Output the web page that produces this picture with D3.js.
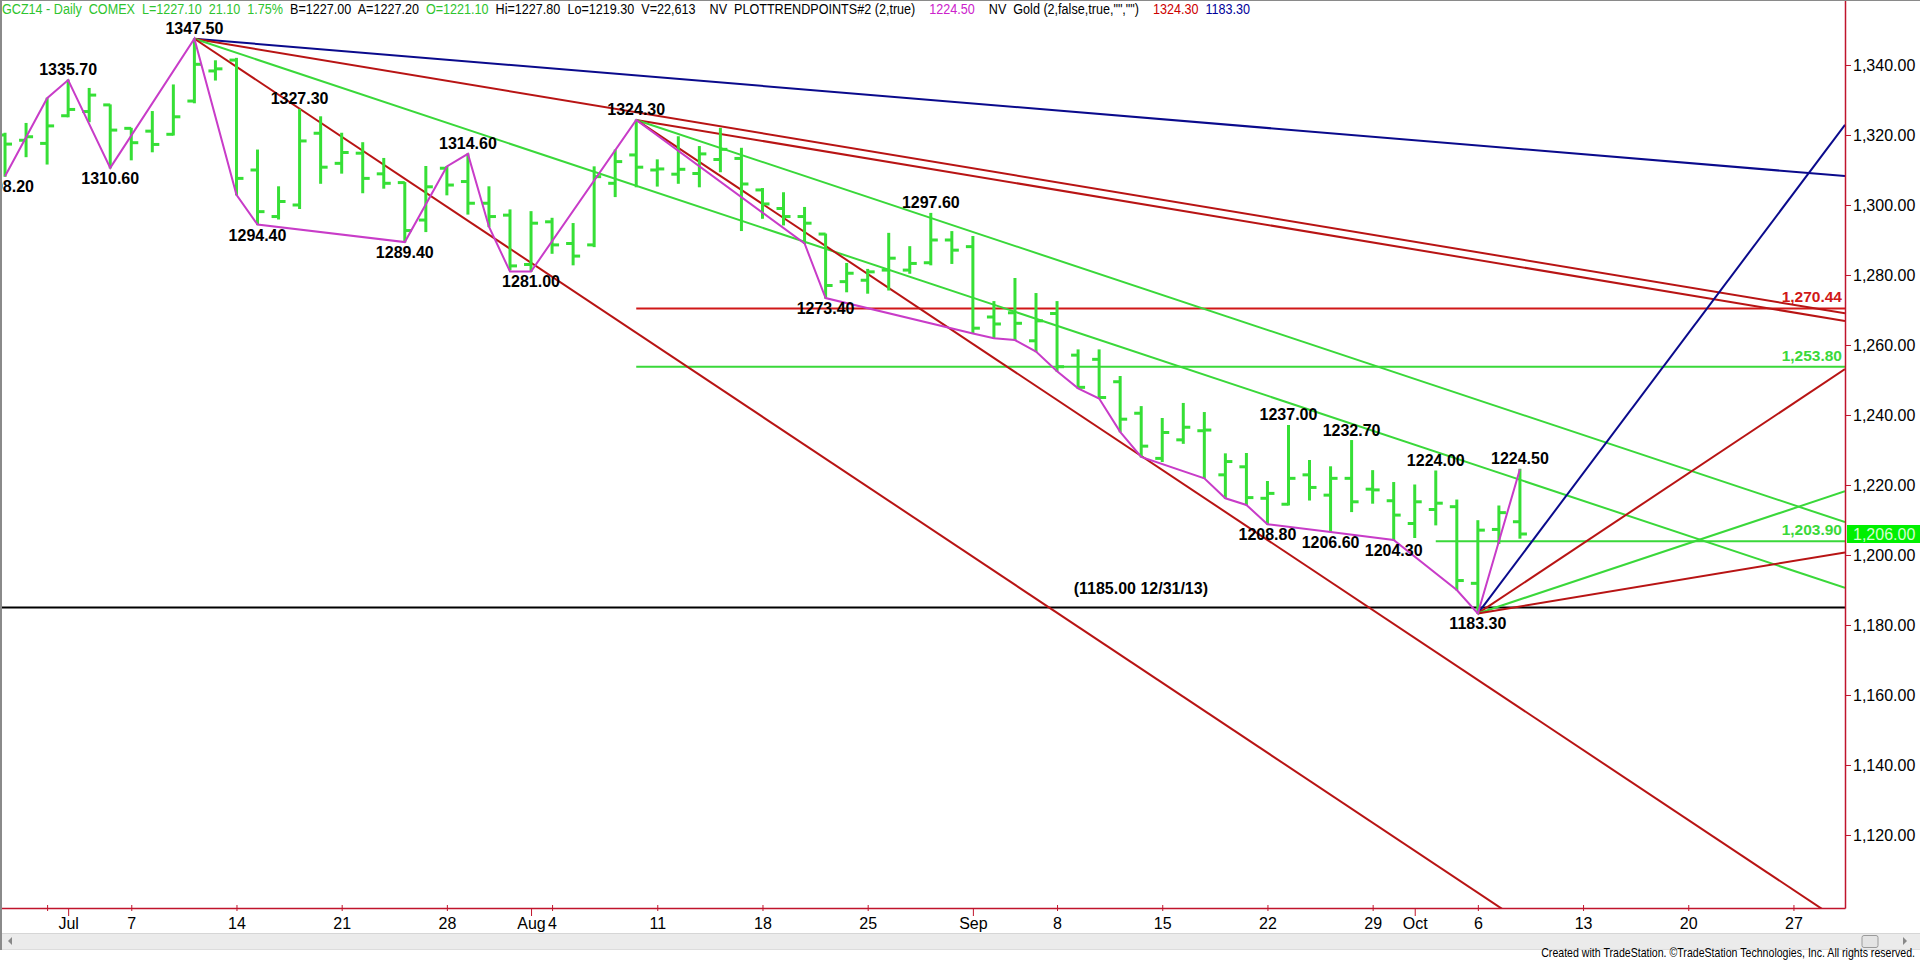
<!DOCTYPE html>
<html><head><meta charset="utf-8">
<script src="https://cdn.jsdelivr.net/npm/d3@7"></script>
<style>
html,body{margin:0;padding:0;background:#fff;overflow:hidden}
svg{display:block}
text{font-family:"Liberation Sans",Arial,Helvetica,sans-serif}
</style></head><body>
<svg id="chart" width="1920" height="964"></svg>
<script>
// ---------------- DATA ----------------
const days = ["06-26","06-27","06-30","07-01","07-02","07-03","07-07","07-08","07-09","07-10","07-11","07-14","07-15","07-16","07-17","07-18","07-21","07-22","07-23","07-24","07-25","07-28","07-29","07-30","07-31","08-01","08-04","08-05","08-06","08-07","08-08","08-11","08-12","08-13","08-14","08-15","08-18","08-19","08-20","08-21","08-22","08-25","08-26","08-27","08-28","08-29","09-02","09-03","09-04","09-05","09-08","09-09","09-10","09-11","09-12","09-15","09-16","09-17","09-18","09-19","09-22","09-23","09-24","09-25","09-26","09-29","09-30","10-01","10-02","10-03","10-06","10-07","10-08","10-09","10-10","10-13","10-14","10-15","10-16","10-17","10-20","10-21","10-22","10-23","10-24","10-27","10-28","10-29","10-30","10-31"];

const opens  = [1320.0,1318.5,1317.6,1325.5,1326.7,1328.6,1321.9,1321.1,1320.2,1329.7,1338.3,1341.4,1310.0,1296.7,1300.0,1320.5,1311.9,1314.8,1308.9,1306.4,1295.7,1310.5,1306.7,1300.5,1297.1,1283.0,1295.2,1289.0,1288.6,1306.2,1314.3,1310.0,1308.8,1309.0,1313.0,1313.3,1304.3,1299.0,1296.7,1291.7,1278.1,1278.5,1281.4,1281.4,1283.5,1290.0,1288.1,1268.0,1269.2,1261.2,1269.0,1257.1,1255.9,1249.5,1240.5,1227.6,1232.9,1235.5,1222.9,1225.2,1216.2,1214.5,1222.9,1217.1,1221.9,1218.8,1215.5,1209.0,1213.0,1213.8,1191.9,1207.3,1209.5];
const highs  = [1320.5,1323.3,1330.5,1335.7,1333.3,1328.6,1321.9,1326.7,1334.3,1347.5,1341.2,1341.9,1315.7,1305.2,1327.3,1325.2,1320.5,1317.8,1313.3,1306.4,1311.0,1311.0,1314.6,1305.2,1298.6,1298.1,1296.2,1294.7,1310.9,1315.7,1324.3,1312.9,1319.5,1316.7,1321.9,1316.2,1304.7,1303.5,1299.3,1291.7,1283.3,1281.6,1291.9,1288.1,1297.6,1292.4,1291.0,1272.4,1279.0,1274.7,1272.4,1258.6,1258.6,1251.0,1242.4,1239.0,1243.3,1240.7,1228.9,1229.0,1221.0,1237.0,1227.0,1225.2,1232.7,1224.1,1220.7,1220.0,1224.0,1215.7,1209.8,1214.0,1224.5];
const lows   = [1308.2,1313.8,1311.7,1325.2,1323.8,1310.6,1312.9,1315.2,1320.0,1329.2,1335.7,1302.9,1294.4,1296.0,1299.0,1306.2,1309.1,1303.5,1304.8,1289.4,1292.4,1302.9,1297.4,1293.8,1281.5,1281.0,1286.2,1282.9,1288.1,1302.4,1305.2,1305.4,1306.2,1305.2,1309.5,1292.7,1296.2,1294.3,1289.0,1273.4,1275.2,1274.8,1275.7,1280.5,1282.9,1283.3,1263.3,1261.9,1261.4,1258.1,1252.5,1247.6,1244.7,1235.2,1228.0,1226.7,1231.9,1221.9,1216.2,1214.3,1208.8,1214.3,1215.7,1206.6,1212.4,1214.8,1204.3,1205.0,1208.6,1190.0,1183.3,1203.3,1204.8];
const closes = [1317.4,1319.5,1322.6,1327.3,1331.4,1321.4,1317.8,1317.3,1325.2,1340.2,1338.9,1307.6,1298.1,1301.0,1318.3,1310.8,1315.0,1307.6,1306.2,1292.7,1305.2,1305.7,1300.5,1296.7,1282.6,1294.8,1288.6,1285.4,1308.1,1312.4,1310.8,1310.3,1310.2,1314.6,1315.9,1306.0,1300.3,1296.7,1294.8,1277.0,1280.5,1280.9,1284.8,1283.3,1290.0,1287.1,1264.8,1266.0,1266.2,1266.9,1253.8,1247.9,1245.0,1238.8,1231.1,1235.0,1236.5,1235.7,1226.7,1216.4,1217.6,1221.9,1219.3,1221.9,1215.2,1218.6,1211.4,1215.2,1214.8,1192.7,1207.1,1212.1,1206.0];

// swing (trend point) line
const pivotDays   = ["06-26","06-30","07-01","07-03","07-10","07-14","07-15","07-24","07-28","07-29","07-30","07-31","08-01","08-08","08-20","08-21","09-02","09-03","09-04","09-05","09-08","09-09","09-10","09-11","09-12","09-17","09-18","09-19","09-22","09-25","09-30","10-03","10-06","10-08"];
const pivotPrices = [1308.2,1330.5,1335.7,1310.6,1347.5,1302.9,1294.4,1289.4,1311.0,1314.6,1293.8,1281.0,1281.0,1324.3,1289.0,1273.4,1263.3,1261.9,1261.4,1258.1,1252.5,1247.6,1244.7,1235.2,1228.0,1221.9,1216.2,1214.3,1208.8,1206.6,1204.3,1190.0,1183.3,1224.5];

// swing labels
const highLabelDays   = ["07-01","07-10","07-17","07-29","08-08","08-28","09-23","09-26","10-02","10-08"];
const highLabelPrices = [1335.70,1347.50,1327.30,1314.60,1324.30,1297.60,1237.00,1232.70,1224.00,1224.50];
const lowLabelDays    = ["06-26","07-03","07-15","07-24","08-01","08-21","09-22","09-25","09-30","10-06"];
const lowLabelPrices  = [1308.20,1310.60,1294.40,1289.40,1281.00,1273.40,1208.80,1206.60,1204.30,1183.30];

// angle lines (points per bar)
const fanOriginDays   = ["07-10","07-10","07-10","07-10","08-08","08-08","08-08","10-06","10-06","10-06","10-06"];
const fanOriginPrices = [1347.5,1347.5,1347.5,1347.5,1324.3,1324.3,1324.3,1183.3,1183.3,1183.3,1183.3];
const fanSlopes       = [-0.5,-1,-2,-4,-1,-2,-4,8,4,2,1];

// horizontal levels
const levelValues    = [1270.44,1253.80,1203.90];
const levelStartDays = ["08-08","08-08","10-02"];
const refLevel = 1185.00;
const refLabel = "(1185.00 12/31/13)";
const lastPrice = 1206.00;

// axes
const priceTicks = [1120,1140,1160,1180,1200,1220,1240,1260,1280,1300,1320,1340];
const tickDays   = ["06-30","07-01","07-07","07-14","07-21","07-28","08-01","08-04","08-11","08-18","08-25","09-02","09-08","09-15","09-22","09-29","10-01","10-06","10-13","10-20","10-27"];
const tickLabels = ["","Jul","7","14","21","28","Aug","4","11","18","25","Sep","8","15","22","29","Oct","6","13","20","27"];

// header pieces
const headerTexts = ["GCZ14 - Daily  COMEX  L=1227.10  21.10  1.75%","  B=1227.00  A=1227.20","  O=1221.10",
  "  Hi=1227.80  Lo=1219.30  V=22,613    NV  PLOTTRENDPOINTS#2 (2,true)","    1224.50",
  "    NV  Gold (2,false,true,\"\",\"\")","    1324.30","  1183.30"];
const creditText = "Created with TradeStation. \u00A9TradeStation Technologies, Inc. All rights reserved.";

// ---------------- STYLE ----------------
const C_BAR = "#36df36", C_GREEN = "#3ad83a", C_RED = "#b81414", C_BLUE = "#0a0a8c",
      C_MAG = "#c83cc8", C_AXIS = "#c0142c", C_HRED = "#d01818";
const fanColor = s => ({0.5:C_BLUE,1:C_RED,2:C_GREEN,4:C_RED,8:C_BLUE})[Math.abs(s)];
const headerColors = ["#2fc42f","#000","#2fc42f","#000","#cc22cc","#000","#cc0000","#000099"];

const plotRight = 1845, plotBottom = 908;
const svg = d3.select("#chart");
const kOf = d => days.indexOf(d);
const x = d3.scaleLinear().domain([-0.239, 87.45]).range([0, plotRight]);
const y = d3.scaleLinear().domain([1099.14, 1358.57]).range([plotBottom, 0]);
const kMax = x.domain()[1];

svg.append("rect").attr("width",1920).attr("height",964).attr("fill","#fff");

svg.append("defs").append("clipPath").attr("id","plotclip")
  .append("rect").attr("x",0).attr("y",0).attr("width",plotRight).attr("height",plotBottom);
const plot = svg.append("g").attr("clip-path","url(#plotclip)");

// reference black line
plot.append("line").attr("x1",0).attr("x2",plotRight)
  .attr("y1",y(refLevel)).attr("y2",y(refLevel)).attr("stroke","#000").attr("stroke-width",2);
plot.append("text").attr("x",1208).attr("y",y(refLevel)-13).attr("text-anchor","end")
  .attr("font-size",16).attr("font-weight","bold").attr("fill","#000").text(refLabel);

// horizontal levels
const levelColor = [C_HRED, C_GREEN, C_GREEN];
levelValues.forEach((v,i)=>{
  plot.append("line").attr("x1",x(kOf(levelStartDays[i]))).attr("x2",plotRight)
    .attr("y1",y(v)).attr("y2",y(v)).attr("stroke",levelColor[i]).attr("stroke-width",2);
  plot.append("text").attr("x",plotRight-3).attr("y",y(v)-6).attr("text-anchor","end")
    .attr("font-size",15.5).attr("font-weight","bold").attr("fill",levelColor[i])
    .text(d3.format(",.2f")(v));
});

// angle lines
fanSlopes.forEach((s,i)=>{
  const k0 = kOf(fanOriginDays[i]), p0 = fanOriginPrices[i];
  plot.append("line")
    .attr("x1",x(k0)).attr("y1",y(p0))
    .attr("x2",x(kMax)).attr("y2",y(p0 + s*(kMax-k0)))
    .attr("stroke",fanColor(s)).attr("stroke-width",2);
});

// OHLC bars
const bars = opens.map((o,i)=>({k:i,o,h:highs[i],l:lows[i],c:closes[i]}));
const gb = plot.append("g").attr("stroke",C_BAR).attr("stroke-width",3);
gb.selectAll("line.v").data(bars).join("line").attr("class","v")
  .attr("x1",d=>x(d.k)).attr("x2",d=>x(d.k)).attr("y1",d=>y(d.h)-0.5).attr("y2",d=>y(d.l)+0.5);
gb.selectAll("line.o").data(bars).join("line").attr("class","o")
  .attr("x1",d=>x(d.k)-7).attr("x2",d=>x(d.k)).attr("y1",d=>y(d.o)).attr("y2",d=>y(d.o));
gb.selectAll("line.c").data(bars).join("line").attr("class","c")
  .attr("x1",d=>x(d.k)).attr("x2",d=>x(d.k)+7).attr("y1",d=>y(d.c)).attr("y2",d=>y(d.c));

// swing line
const pivots = pivotDays.map((d,i)=>({k:kOf(d),p:pivotPrices[i]}));
plot.append("path").datum(pivots)
  .attr("d", d3.line().x(d=>x(d.k)).y(d=>y(d.p)))
  .attr("fill","none").attr("stroke",C_MAG).attr("stroke-width",2);

// swing labels
const fmt2 = d3.format(".2f");
highLabelDays.forEach((d,i)=>{
  plot.append("text").attr("x",x(kOf(d))).attr("y",y(highLabelPrices[i])-5)
    .attr("text-anchor","middle").attr("font-size",16).attr("font-weight","bold")
    .attr("fill","#000").text(fmt2(highLabelPrices[i]));
});
lowLabelDays.forEach((d,i)=>{
  plot.append("text").attr("x",x(kOf(d))).attr("y",y(lowLabelPrices[i])+16)
    .attr("text-anchor","middle").attr("font-size",16).attr("font-weight","bold")
    .attr("fill","#000").text(fmt2(lowLabelPrices[i]));
});

// right axis
const yAxis = d3.axisRight(y).tickValues(priceTicks).tickFormat(d3.format(",.2f"))
  .tickSize(6).tickSizeOuter(0).tickPadding(2);
const ya = svg.append("g").attr("transform",`translate(${plotRight},0)`).call(yAxis);
ya.select(".domain").attr("stroke",C_AXIS).attr("stroke-width",1.5);
ya.selectAll(".tick line").attr("stroke",C_AXIS);
ya.selectAll(".tick text").attr("font-size",16).attr("fill","#000")
  .attr("font-family","'Liberation Sans',Arial,sans-serif");

// last price marker
svg.append("rect").attr("x",plotRight+2).attr("y",y(lastPrice)-9).attr("width",1920-plotRight-2)
  .attr("height",18).attr("fill","#00f000");
svg.append("text").attr("x",plotRight+8).attr("y",y(lastPrice)+6).attr("font-size",16)
  .attr("fill","#d4ffd4").text(d3.format(",.2f")(lastPrice));

// bottom axis
const tickK = tickDays.map(kOf);
const xAxis = d3.axisBottom(x).tickValues(tickK).tickFormat((d,i)=>tickLabels[i])
  .tickSize(4).tickSizeOuter(0);
const xa = svg.append("g").attr("transform",`translate(0,${plotBottom})`).call(xAxis);
xa.select(".domain").attr("stroke",C_AXIS).attr("stroke-width",1.5);
xa.selectAll(".tick line").attr("stroke",C_AXIS)
  .attr("y1",(d,i)=>/^[A-Z]/.test(tickLabels[i]) ? 0 : -3)
  .attr("y2",(d,i)=>/^[A-Z]/.test(tickLabels[i]) ? 8 : 3);
xa.selectAll(".tick text").attr("font-size",16).attr("fill","#000").attr("y",21).attr("dy",0)
  .attr("font-family","'Liberation Sans',Arial,sans-serif");

// header (natural flow, compressed horizontally to the reference width)
const hg = svg.append("g");
const ht = hg.append("text").attr("x",0).attr("y",0).attr("font-size",15).style("white-space","pre");
headerTexts.forEach((t,i)=>ht.append("tspan").attr("fill",headerColors[i]).text(t));
const hw = ht.node().getComputedTextLength();
hg.attr("transform",`translate(2,14) scale(${1249/hw},1)`);

// frame borders
svg.append("line").attr("x1",0).attr("x2",1920).attr("y1",0.5).attr("y2",0.5).attr("stroke","#8a8a8a");
svg.append("line").attr("x1",1).attr("x2",1).attr("y1",0).attr("y2",950).attr("stroke","#8a8a8a").attr("stroke-width",2);

// scrollbar
svg.append("rect").attr("x",2).attr("y",933).attr("width",1918).attr("height",16).attr("fill","#ebebeb");
svg.append("line").attr("x1",2).attr("x2",1920).attr("y1",933.5).attr("y2",933.5).attr("stroke","#d6d6d6");
svg.append("line").attr("x1",2).attr("x2",1920).attr("y1",949.5).attr("y2",949.5).attr("stroke","#dcdcdc");
svg.append("path").attr("d","M12,937 L8,941 L12,945 Z").attr("fill","#888");
svg.append("rect").attr("x",1862).attr("y",935.5).attr("width",16).attr("height",12).attr("rx",2)
  .attr("fill","#e4e4e4").attr("stroke","#9a9a9a");
svg.append("path").attr("d","M1903,937 L1907,941 L1903,945 Z").attr("fill","#888");

// credits (compressed horizontally, anchored at the right)
const cg = svg.append("g");
const ct = cg.append("text").attr("x",0).attr("y",0).attr("font-size",12.5).attr("fill","#000")
  .attr("text-anchor","end").text(creditText);
const cw = ct.node().getComputedTextLength();
cg.attr("transform",`translate(1915,957) scale(${374/cw},1)`);
</script>
</body></html>
